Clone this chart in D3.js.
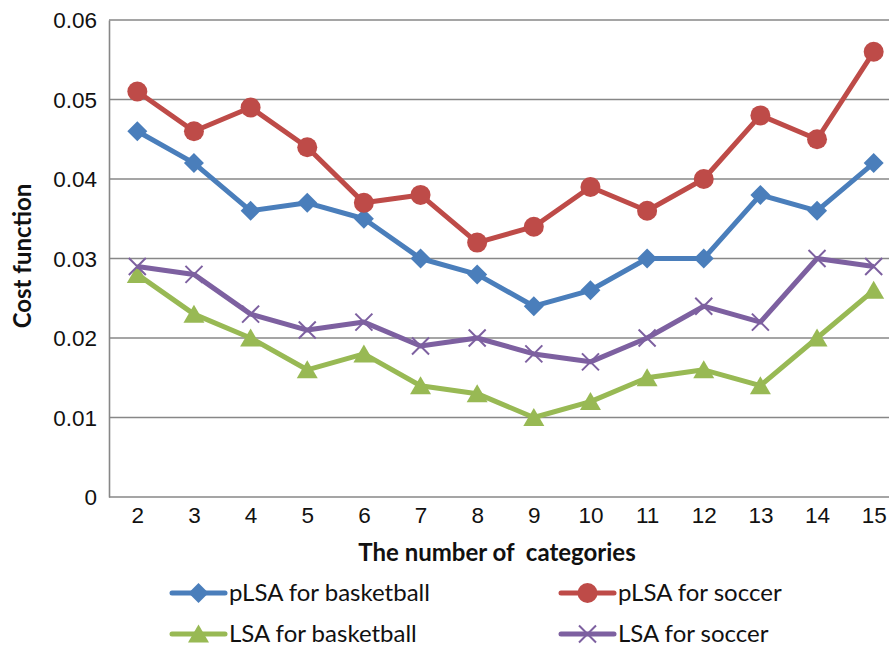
<!DOCTYPE html>
<html>
<head>
<meta charset="utf-8">
<script src="https://cdn.jsdelivr.net/npm/d3@7"></script>
<style>
  html, body { margin: 0; padding: 0; background: #fff; overflow: hidden; }
  svg { display: block; font-family: Lato, "Open Sans", "Liberation Sans", sans-serif; }
</style>
</head>
<body>
<svg id="chart" width="889" height="649"></svg>
<script>
// Number of categories on the x axis
const categories = [2, 3, 4, 5, 6, 7, 8, 9, 10, 11, 12, 13, 14, 15];

// Cost function values for each method / dataset
const plsaBasketball = [0.046, 0.042, 0.036, 0.037, 0.035, 0.030, 0.028, 0.024, 0.026, 0.030, 0.030, 0.038, 0.036, 0.042];
const plsaSoccer     = [0.051, 0.046, 0.049, 0.044, 0.037, 0.038, 0.032, 0.034, 0.039, 0.036, 0.040, 0.048, 0.045, 0.056];
const lsaBasketball  = [0.028, 0.023, 0.020, 0.016, 0.018, 0.014, 0.013, 0.010, 0.012, 0.015, 0.016, 0.014, 0.020, 0.026];
const lsaSoccer      = [0.029, 0.028, 0.023, 0.021, 0.022, 0.019, 0.020, 0.018, 0.017, 0.020, 0.024, 0.022, 0.030, 0.029];

const yTicks = [0, 0.01, 0.02, 0.03, 0.04, 0.05, 0.06];

const series = [
  { name: "pLSA for basketball", values: plsaBasketball, color: "#4A7EBB", marker: "diamond" },
  { name: "pLSA for soccer",     values: plsaSoccer,     color: "#BE4B48", marker: "circle" },
  { name: "LSA for basketball",  values: lsaBasketball,  color: "#98B954", marker: "triangle" },
  { name: "LSA for soccer",      values: lsaSoccer,      color: "#7D60A0", marker: "cross" }
];

const svg = d3.select("#chart");
const plot = { left: 109, top: 20, right: 902, bottom: 497 };

const x = d3.scalePoint()
  .domain(categories)
  .range([plot.left, plot.right])
  .padding(0.5);

const y = d3.scaleLinear()
  .domain([0, 0.06])
  .range([plot.bottom, plot.top]);

// Horizontal gridlines
svg.append("g")
  .selectAll("line")
  .data(yTicks.filter(d => d > 0))
  .join("line")
  .attr("x1", plot.left).attr("x2", plot.right)
  .attr("y1", d => y(d)).attr("y2", d => y(d))
  .attr("stroke", "#878787")
  .attr("stroke-width", 1.6);

// Y axis
const yAxis = svg.append("g")
  .attr("transform", `translate(${plot.left},0)`)
  .call(d3.axisLeft(y).tickValues(yTicks).tickSize(0).tickPadding(12)
    .tickFormat(d => d === 0 ? "0" : d3.format(".2f")(d)));
yAxis.select(".domain").attr("stroke", "#878787").attr("stroke-width", 1.6);
yAxis.selectAll("text").attr("font-size", 22.5).attr("fill", "#111").attr("dy", "0.34em");

// X axis
const xAxis = svg.append("g")
  .attr("transform", `translate(0,${plot.bottom})`)
  .call(d3.axisBottom(x).tickSize(0).tickPadding(10));
xAxis.select(".domain").attr("stroke", "#878787").attr("stroke-width", 1.6)
  .attr("d", `M${plot.left},0H${plot.right}`);
xAxis.selectAll("text").attr("font-size", 22.5).attr("fill", "#111");

// Axis titles
svg.append("text")
  .attr("x", 497).attr("y", 561)
  .attr("text-anchor", "middle")
  .attr("font-size", 24).attr("font-weight", "bold").attr("fill", "#111")
  .style("white-space", "pre")
  .text("The number of  categories");

svg.append("text")
  .attr("transform", "translate(31,256) rotate(-90)")
  .attr("text-anchor", "middle")
  .attr("font-size", 24).attr("font-weight", "bold").attr("fill", "#111")
  .text("Cost function");

// Marker drawing
function drawMarker(g, type, color) {
  if (type === "diamond") {
    g.append("path").attr("d", "M0,-10L10,0L0,10L-10,0Z").attr("fill", color);
  } else if (type === "circle") {
    g.append("circle").attr("r", 10).attr("fill", color);
  } else if (type === "triangle") {
    g.append("path").attr("d", "M0,-9.5L10.5,8.5L-10.5,8.5Z").attr("fill", color);
  } else if (type === "cross") {
    g.append("path").attr("d", "M-8.5,-8.5L8.5,8.5M-8.5,8.5L8.5,-8.5")
      .attr("stroke", color).attr("stroke-width", 2).attr("fill", "none");
  }
}

const line = d3.line().x(d => x(d.c)).y(d => y(d.v));

series.forEach(s => {
  const pts = categories.map((c, i) => ({ c, v: s.values[i] }));
  svg.append("path")
    .datum(pts)
    .attr("d", line)
    .attr("fill", "none")
    .attr("stroke", s.color)
    .attr("stroke-width", 5)
    .attr("stroke-linejoin", "round");
  svg.append("g").selectAll("g")
    .data(pts)
    .join("g")
    .attr("transform", d => `translate(${x(d.c)},${y(d.v)})`)
    .each(function () { drawMarker(d3.select(this), s.marker, s.color); });
});

// Legend (two columns, two rows)
const legendPos = [
  { lx: 172, ly: 593 },
  { lx: 561, ly: 593 },
  { lx: 172, ly: 634 },
  { lx: 561, ly: 634 }
];
series.forEach((s, i) => {
  const p = legendPos[i];
  const g = svg.append("g").attr("transform", `translate(${p.lx},${p.ly})`);
  g.append("line").attr("x1", 0).attr("x2", 53).attr("y1", 0).attr("y2", 0)
    .attr("stroke", s.color).attr("stroke-width", 5).attr("stroke-linecap", "round");
  const m = g.append("g").attr("transform", "translate(26.5,0)");
  drawMarker(m, s.marker, s.color);
  g.append("text").attr("x", 57).attr("y", 0).attr("dy", "0.35em")
    .attr("font-size", 24).attr("fill", "#111").text(s.name);
});
</script>
</body>
</html>
